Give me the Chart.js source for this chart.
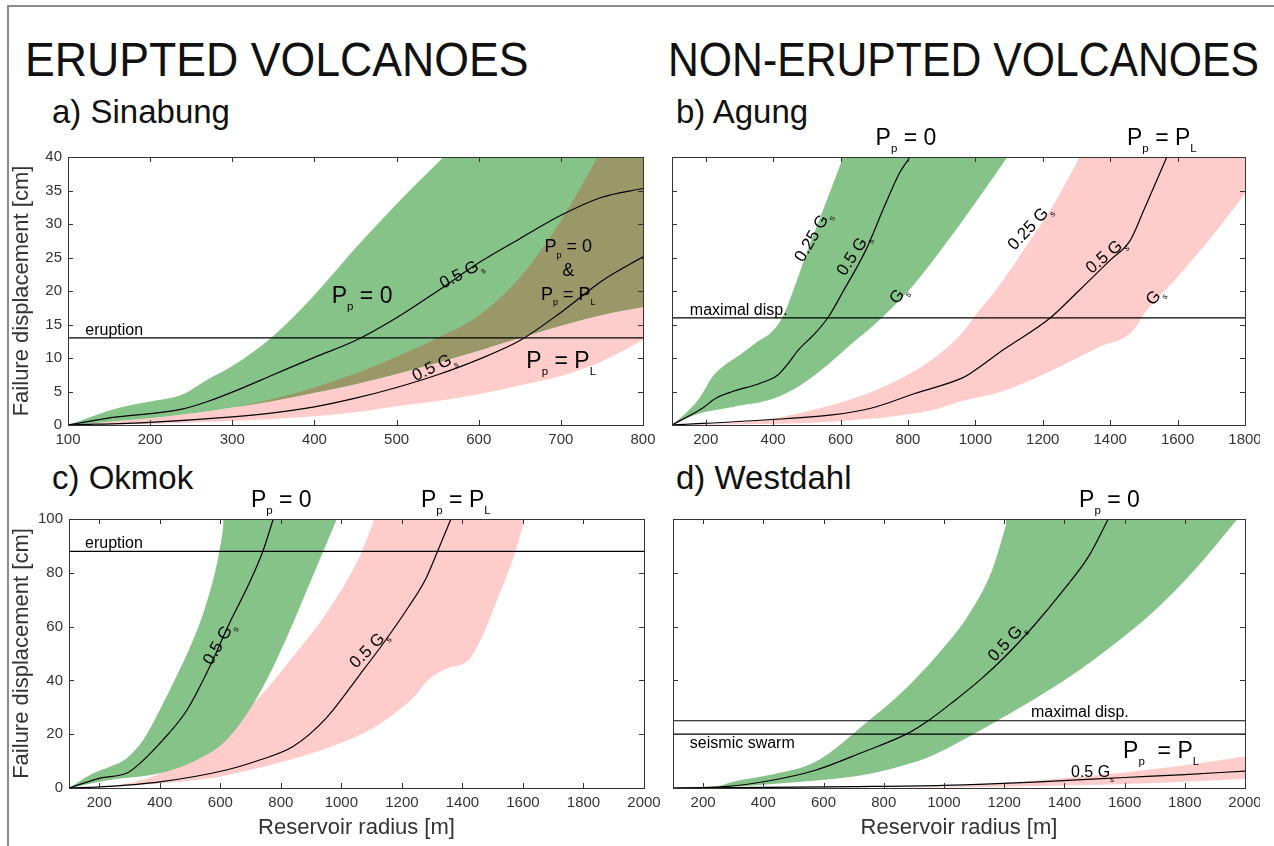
<!DOCTYPE html>
<html>
<head>
<meta charset="utf-8">
<script src="https://cdn.jsdelivr.net/npm/chart.js@4.4.1/dist/chart.umd.min.js"></script>
<style>
  body { margin: 0; background: #fff; width: 1274px; height: 846px; overflow: hidden; position: relative;
         font-family: 'Liberation Sans', Arial, sans-serif; }
  .h { position: absolute; line-height: 1; color: #111; white-space: nowrap; transform-origin: 0 0; }
  .big { font-size: 48px; top: 36px; }
  .sub { font-size: 33px; }
  canvas { position: absolute; }
  #frame { position: absolute; left: 7px; top: 5px; right: 0; bottom: 0;
           border-left: 2px solid #8c8c8c; border-top: 2px solid #8c8c8c; }
</style>
</head>
<body>
<div id="frame"></div>
<div class="h big" style="left:25px;transform:scaleX(0.93)">ERUPTED VOLCANOES</div>
<div class="h big" style="left:668px;transform:scaleX(0.89)">NON-ERUPTED VOLCANOES</div>
<div class="h sub" style="left:52px;top:95px">a) Sinabung</div>
<div class="h sub" style="left:676px;top:95px">b) Agung</div>
<div class="h sub" style="left:52px;top:461px">c) Okmok</div>
<div class="h sub" style="left:676px;top:461px">d) Westdahl</div>

<canvas id="chartA" width="672" height="330" style="left:0;top:120px"></canvas>
<canvas id="chartB" width="605" height="330" style="left:655px;top:120px"></canvas>
<canvas id="chartC" width="672" height="366" style="left:0;top:480px"></canvas>
<canvas id="chartD" width="605" height="366" style="left:655px;top:480px"></canvas>

<script>
// ---- tick labels ----
const ticksXA = [100, 200, 300, 400, 500, 600, 700, 800];
const ticksXB = [200, 400, 600, 800, 1000, 1200, 1400, 1600, 1800];
const ticksXCD = [200, 400, 600, 800, 1000, 1200, 1400, 1600, 1800, 2000];
const ticksY40 = [0, 5, 10, 15, 20, 25, 30, 35, 40];
const ticksY100 = [0, 20, 40, 60, 80, 100];

// ---- a) Sinabung ----
const aGreenLoX = [100, 150, 200, 250, 300, 350, 400, 450, 500, 550, 600, 650, 700, 750, 800];
const aGreenLoY = [0, 0.5, 1.0, 1.7, 2.6, 3.6, 4.8, 6.1, 7.6, 9.3, 11.1, 13.0, 14.8, 16.4, 17.6];
const aGreenHiX = [100, 160, 200, 240, 270, 300, 350, 400, 450, 500, 557];
const aGreenHiY = [0, 2.5, 3.5, 4.6, 6.8, 8.8, 13.3, 19.4, 26.4, 33.0, 40];
const aPinkLoX = [100, 200, 300, 400, 450, 500, 550, 600, 650, 700, 750, 800];
const aPinkLoY = [0, 0.2, 0.6, 1.3, 1.9, 2.8, 3.6, 4.6, 5.9, 7.3, 9.5, 12.7];
const aPinkHiX = [100, 150, 200, 250, 300, 350, 400, 450, 500, 550, 600, 650, 700, 745];
const aPinkHiY = [0, 0.5, 1.0, 1.7, 2.6, 3.9, 5.6, 7.7, 10.2, 13.0, 16.3, 22.0, 30.5, 40];
const aLine0X = [100, 160, 200, 240, 270, 300, 350, 400, 450, 500, 550, 600, 650, 700, 750, 800];
const aLine0Y = [0, 1.2, 1.7, 2.4, 3.5, 4.9, 7.5, 10.1, 12.6, 16.0, 20.0, 24.2, 27.8, 31.3, 34.0, 35.3];
const aLineLX = [100, 200, 300, 350, 400, 450, 500, 550, 600, 650, 700, 750, 800];
const aLineLY = [0, 0.4, 1.2, 1.8, 2.7, 4.0, 5.6, 7.5, 9.8, 12.6, 16.8, 21.5, 25.1];
const aEruption = 13;

// ---- b) Agung ----
const bGreenLoX = [100, 180, 280, 400, 480, 550, 630, 720, 820, 920, 1020, 1095];
const bGreenLoY = [0, 1.7, 2.7, 3.9, 5.9, 8.5, 12.0, 15.9, 21.1, 27.6, 34.6, 40];
const bGreenHiX = [100, 150, 180, 220, 250, 300, 350, 400, 430, 460, 500, 550, 608];
const bGreenHiY = [0, 2.2, 3.9, 7.2, 8.7, 10.4, 12.3, 14.1, 16.3, 20.1, 25.8, 32.3, 40];
const bPinkLoX = [100, 300, 575, 870, 955, 1090, 1250, 1370, 1460, 1510, 1600, 1725, 1800];
const bPinkLoY = [0, 0.1, 0.5, 2.2, 3.5, 5.2, 8.7, 11.7, 13.7, 17.2, 22.1, 29.6, 34.5];
const bPinkHiX = [100, 330, 475, 670, 770, 870, 960, 1010, 1075, 1150, 1240, 1310];
const bPinkHiY = [0, 0.5, 1.7, 4.5, 6.7, 9.7, 13.7, 17.0, 21.1, 26.6, 33.6, 40];
const bLine0X = [100, 190, 230, 280, 360, 415, 445, 475, 525, 565, 605, 675, 730, 775, 806];
const bLine0Y = [0, 2.5, 4.0, 5.0, 6.2, 7.5, 9.2, 11.2, 13.7, 16.2, 19.7, 26.1, 32.6, 37.6, 40];
const bLineLX = [100, 375, 575, 690, 820, 960, 985, 1085, 1220, 1300, 1400, 1460, 1500, 1568];
const bLineLY = [0, 0.75, 1.5, 2.5, 4.7, 7.0, 7.7, 11.3, 15.9, 19.7, 24.6, 27.6, 32.1, 40];
const bMaxDisp = 16;

// ---- c) Okmok ----
const cGreenLoX = [100, 235, 400, 510, 620, 710, 775, 840, 905, 985];
const cGreenLoY = [0, 3.0, 5.5, 9.8, 17.8, 31.5, 45.1, 61.2, 78.6, 100];
const cGreenHiX = [100, 180, 235, 290, 345, 400, 455, 510, 555, 590, 615];
const cGreenHiY = [0, 5.5, 7.9, 11.0, 17.8, 29, 41.5, 55, 69, 84, 100];
const cPinkLoX = [100, 280, 560, 690, 830, 970, 1105, 1190, 1245, 1285, 1350, 1420, 1460, 1515, 1570, 1606];
const cPinkLoY = [0, 0.8, 3.5, 6.5, 10.5, 15.5, 22.3, 29, 34.5, 40, 44.5, 47.5, 55, 70, 86, 100];
const cPinkHiX = [100, 200, 290, 400, 510, 620, 730, 840, 950, 1060, 1110];
const cPinkHiY = [0, 0.5, 1.7, 5.3, 12.5, 21.6, 33.9, 48.8, 65, 86, 100];
const cLine0X = [100, 200, 290, 315, 400, 490, 565, 630, 690, 740, 775];
const cLine0Y = [0, 3.6, 5.5, 7.3, 16.6, 29, 45.1, 61.2, 74.8, 87.8, 100];
const cLineLX = [100, 200, 400, 620, 730, 840, 950, 1060, 1140, 1220, 1280, 1318, 1362];
const cLineLY = [0, 0.4, 2.3, 6.7, 10.4, 15.4, 26, 42, 54, 67, 78, 88, 100];
const cEruption = 88;

// ---- d) Westdahl ----
const dGreenLoX = [100, 300, 440, 695, 820, 950, 1090, 1180, 1300, 1420, 1560, 1700, 1840, 1975];
const dGreenLoY = [0, 0.5, 1.6, 4.2, 7.0, 11.5, 19.5, 25.2, 33, 41.5, 53, 66, 82, 100];
const dGreenHiX = [100, 250, 300, 420, 560, 620, 695, 735, 815, 900, 990, 1080, 1160, 1212];
const dGreenHiY = [0, 0.7, 2.3, 4.8, 9, 13, 19.8, 23.6, 31, 40, 51, 64, 81, 100];
const dPinkLoX = [100, 1000, 1400, 1700, 2000];
const dPinkLoY = [0, 0.2, 0.9, 1.9, 3.3];
const dPinkHiX = [100, 700, 1000, 1200, 1400, 1600, 1800, 2000];
const dPinkHiY = [0, 0.2, 0.5, 1.8, 3.7, 5.8, 8.5, 11.7];
const dLine0X = [100, 270, 420, 570, 730, 880, 945, 1030, 1120, 1200, 1300, 1400, 1480, 1546];
const dLine0Y = [0, 0.5, 2.7, 6.5, 13.3, 20.3, 24.8, 32, 40.2, 48.5, 60.5, 74, 86, 100];
const dLineLX = [100, 400, 700, 1000, 1300, 1600, 1800, 2000];
const dLineLY = [0, 0.2, 0.5, 1.0, 2.2, 3.9, 5.0, 6.3];
const dMaxDisp = 25;
const dSwarm = 20;

const FONT = "'Liberation Sans', Arial, sans-serif";
const GREEN = 'rgb(134,195,136)';
const PINK = 'rgb(255,204,204)';
const OLIVE = 'rgb(154,151,105)';
const CLEAR = 'rgba(0,0,0,0)';

// text pieces, [text, isSubscript]
const PP0 = [['P'], ['p', 1], [' = 0']];
const PPL = [['P'], ['p', 1], [' = P'], ['L', 1]];
const G05 = [['0.5 G'], ['s', 1]];
const G025 = [['0.25 G'], ['s', 1]];
const GS = [['G'], ['s', 1]];

function pts(xs, ys) {
    return xs.map((x, i) => ({ x, y: ys[i] }));
}

const LINE = { borderColor: '#000', borderWidth: 1.2, pointRadius: 0, fill: false, cubicInterpolationMode: 'monotone' };
const EDGE = { borderColor: CLEAR, borderWidth: 0, pointRadius: 0, cubicInterpolationMode: 'monotone' };

function buildDatasets(curves, levels, xMin, xMax, bands) {
    const sets = [];
    curves.forEach(([xs, ys]) => sets.push({ ...LINE, data: pts(xs, ys) }));
    levels.forEach(v => sets.push({ ...LINE, data: [{ x: xMin, y: v }, { x: xMax, y: v }] }));
    // bands: later ones are filled first (under the earlier ones)
    bands.forEach(b => {
        const lo = sets.length;
        const fill = { target: lo, above: b.color, below: b.onlyAbove ? CLEAR : b.color };
        sets.push({ ...EDGE, data: pts(b.loX, b.loY), fill: false });
        sets.push({ ...EDGE, data: pts(b.hiX, b.hiY), fill });
        // where the upper edge leaves the top of the axes, keep the band along the top
        // (starts a hair early so the two fills overlap and leave no seam)
        const lastX = b.hiX[b.hiX.length - 1], lastY = b.hiY[b.hiY.length - 1];
        if (lastX < xMax) {
            const x0 = lastX - (xMax - xMin) * 0.003;
            sets.push({ ...EDGE, data: [{ x: x0, y: lastY }, { x: xMax, y: lastY }], fill });
        }
    });
    return sets;
}

// box with inward ticks on all four sides
const framePlugin = {
    id: 'frame',
    afterDatasetsDraw(chart) {
        const { ctx, chartArea: a, scales: { x, y } } = chart;
        ctx.save();
        ctx.strokeStyle = '#333';
        ctx.lineWidth = 1;
        ctx.beginPath();
        x.ticks.forEach(t => {
            const p = Math.round(x.getPixelForValue(t.value)) + 0.5;
            ctx.moveTo(p, a.bottom); ctx.lineTo(p, a.bottom - 5);
            ctx.moveTo(p, a.top); ctx.lineTo(p, a.top + 5);
        });
        y.ticks.forEach(t => {
            const p = Math.round(y.getPixelForValue(t.value)) + 0.5;
            ctx.moveTo(a.left, p); ctx.lineTo(a.left + 5, p);
            ctx.moveTo(a.right, p); ctx.lineTo(a.right - 5, p);
        });
        ctx.stroke();
        ctx.strokeRect(Math.round(a.left) + 0.5, Math.round(a.top) + 0.5,
            Math.round(a.right - a.left), Math.round(a.bottom - a.top));
        ctx.restore();
    }
};

function drawRich(ctx, parts, px, py, size, rot, align, mid) {
    ctx.save();
    ctx.translate(px, py);
    ctx.rotate((rot || 0) * Math.PI / 180);
    ctx.fillStyle = '#000';
    ctx.textBaseline = 'alphabetic';
    let w = 0;
    parts.forEach(p => {
        ctx.font = `${p[1] ? size * 0.5 : size}px ${FONT}`;
        w += ctx.measureText(p[0]).width;
    });
    let cx = align === 'center' ? -w / 2 : 0;
    const by = mid ? size * 0.36 : 0;
    parts.forEach(p => {
        ctx.font = `${p[1] ? size * 0.5 : size}px ${FONT}`;
        ctx.fillText(p[0], cx, by + (p[1] ? size * 0.3 : 0));
        cx += ctx.measureText(p[0]).width;
    });
    ctx.restore();
}

// labels placed in data coordinates
const notesPlugin = {
    id: 'notes',
    afterDatasetsDraw(chart, args, opts) {
        const { ctx, scales: { x, y } } = chart;
        (opts.items || []).forEach(n => {
            drawRich(ctx, n.t, x.getPixelForValue(n.x), y.getPixelForValue(n.y),
                n.size, n.rot, n.align, n.mid);
        });
    }
};

function makeChart(id, cfg) {
    const tickFont = { family: FONT, size: 15 };
    const titleFont = { family: FONT, size: 22 };
    return new Chart(document.getElementById(id), {
        type: 'line',
        data: { datasets: cfg.datasets },
        options: {
            responsive: false,
            animation: false,
            events: [],
            layout: { padding: { top: cfg.top, right: cfg.right, left: 0, bottom: 0 } },
            plugins: {
                legend: { display: false },
                tooltip: { enabled: false },
                filler: { drawTime: 'beforeDatasetsDraw', propagate: false },
                notes: { items: cfg.notes }
            },
            scales: {
                x: {
                    type: 'linear', min: cfg.xMin, max: cfg.xMax,
                    afterBuildTicks: s => { s.ticks = cfg.xTicks.map(v => ({ value: v })); },
                    afterFit: s => { s.height = cfg.xH; s.paddingLeft = 0; s.paddingRight = 0; },
                    grid: { display: false, drawTicks: false },
                    border: { display: false },
                    ticks: { color: '#333', font: tickFont, padding: 6, maxRotation: 0, autoSkip: false,
                             callback: v => String(v) },
                    title: cfg.xTitle
                        ? { display: true, text: 'Reservoir radius [m]', color: '#333', font: titleFont, padding: { top: 0, bottom: 5 } }
                        : { display: false }
                },
                y: {
                    type: 'linear', min: 0, max: cfg.yMax,
                    afterBuildTicks: s => { s.ticks = cfg.yTicks.map(v => ({ value: v })); },
                    afterFit: s => { s.width = cfg.yW; s.paddingTop = 0; s.paddingBottom = 0; },
                    grid: { display: false, drawTicks: false },
                    border: { display: false },
                    ticks: { display: cfg.yLabels, color: '#333', font: tickFont, padding: 6,
                             callback: v => String(v) },
                    title: cfg.yLabels
                        ? { display: true, text: 'Failure displacement [cm]', color: '#333', font: titleFont, padding: { top: 9, bottom: 0 } }
                        : { display: false }
                }
            }
        },
        plugins: [framePlugin, notesPlugin]
    });
}

// a) Sinabung
makeChart('chartA', {
    xMin: 100, xMax: 800, yMax: 40, xTicks: ticksXA, yTicks: ticksY40,
    top: 37, right: 29, xH: 25, yW: 68, yLabels: true, xTitle: false,
    datasets: buildDatasets(
        [[aLine0X, aLine0Y], [aLineLX, aLineLY]], [aEruption], 100, 800,
        [
            { loX: aGreenLoX, loY: aGreenLoY, hiX: aPinkHiX, hiY: aPinkHiY, color: OLIVE, onlyAbove: true },
            { loX: aGreenLoX, loY: aGreenLoY, hiX: aGreenHiX, hiY: aGreenHiY, color: GREEN },
            { loX: aPinkLoX, loY: aPinkLoY, hiX: aPinkHiX, hiY: aPinkHiY, color: PINK }
        ]),
    notes: [
        { t: [['eruption']], x: 121, y: 13.45, size: 16 },
        { t: PP0, x: 421, y: 18.2, size: 23 },
        { t: G05, x: 578, y: 22.7, size: 17, rot: -28, align: 'center', mid: true },
        { t: PP0, x: 709, y: 25.8, size: 18, align: 'center' },
        { t: [['&']], x: 709, y: 22.2, size: 18, align: 'center' },
        { t: PPL, x: 709, y: 18.66, size: 18, align: 'center' },
        { t: G05, x: 545, y: 8.8, size: 17, rot: -26, align: 'center', mid: true },
        { t: PPL, x: 658, y: 8.46, size: 23 }
    ]
});

// b) Agung
makeChart('chartB', {
    xMin: 100, xMax: 1800, yMax: 40, xTicks: ticksXB, yTicks: ticksY40,
    top: 37, right: 15, xH: 25, yW: 17, yLabels: false, xTitle: false,
    datasets: buildDatasets(
        [[bLine0X, bLine0Y], [bLineLX, bLineLY]], [bMaxDisp], 100, 1800,
        [
            { loX: bGreenLoX, loY: bGreenLoY, hiX: bGreenHiX, hiY: bGreenHiY, color: GREEN },
            { loX: bPinkLoX, loY: bPinkLoY, hiX: bPinkHiX, hiY: bPinkHiY, color: PINK }
        ]),
    notes: [
        { t: PP0, x: 704, y: 41.8, size: 23 },
        { t: PPL, x: 1450, y: 41.8, size: 23 },
        { t: [['maximal disp.']], x: 153, y: 16.4, size: 16 },
        { t: G025, x: 515, y: 28.2, size: 17, rot: -60, align: 'center', mid: true },
        { t: G05, x: 635, y: 25.5, size: 17, rot: -57, align: 'center', mid: true },
        { t: GS, x: 769, y: 19.5, size: 17, rot: -52, align: 'center', mid: true },
        { t: G025, x: 1159, y: 29.6, size: 17, rot: -47, align: 'center', mid: true },
        { t: G05, x: 1385, y: 25.4, size: 17, rot: -40, align: 'center', mid: true },
        { t: GS, x: 1530, y: 19.3, size: 17, rot: -48, align: 'center', mid: true }
    ]
});

// c) Okmok
makeChart('chartC', {
    xMin: 100, xMax: 2000, yMax: 100, xTicks: ticksXCD, yTicks: ticksY100,
    top: 39, right: 28, xH: 58, yW: 69, yLabels: true, xTitle: true,
    datasets: buildDatasets(
        [[cLine0X, cLine0Y], [cLineLX, cLineLY]], [cEruption], 100, 2000,
        [
            { loX: cGreenLoX, loY: cGreenLoY, hiX: cGreenHiX, hiY: cGreenHiY, color: GREEN },
            { loX: cPinkLoX, loY: cPinkLoY, hiX: cPinkHiX, hiY: cPinkHiY, color: PINK }
        ]),
    notes: [
        { t: PP0, x: 701, y: 104.6, size: 23 },
        { t: PPL, x: 1263, y: 104.6, size: 23 },
        { t: [['eruption']], x: 153, y: 89.1, size: 16 },
        { t: G05, x: 592, y: 53.9, size: 17, rot: -60, align: 'center', mid: true },
        { t: G05, x: 1088, y: 51.9, size: 17, rot: -45, align: 'center', mid: true }
    ]
});

// d) Westdahl
makeChart('chartD', {
    xMin: 100, xMax: 2000, yMax: 100, xTicks: ticksXCD, yTicks: ticksY100,
    top: 39, right: 15, xH: 58, yW: 18, yLabels: false, xTitle: true,
    datasets: buildDatasets(
        [[dLine0X, dLine0Y], [dLineLX, dLineLY]], [dMaxDisp, dSwarm], 100, 2000,
        [
            { loX: dGreenLoX, loY: dGreenLoY, hiX: dGreenHiX, hiY: dGreenHiY, color: GREEN },
            { loX: dPinkLoX, loY: dPinkLoY, hiX: dPinkHiX, hiY: dPinkHiY, color: PINK }
        ]),
    notes: [
        { t: PP0, x: 1449, y: 104.6, size: 23 },
        { t: [['maximal disp.']], x: 1289, y: 26.5, size: 16 },
        { t: [['seismic swarm']], x: 156, y: 14.8, size: 16 },
        { t: [['P'], ['p', 1], ['  = P'], ['L', 1]], x: 1595, y: 11.0, size: 23 },
        { t: G05, x: 1206, y: 54.5, size: 17, rot: -47, align: 'center', mid: true },
        { t: G05, x: 1422, y: 4.2, size: 16 }
    ]
});
</script>
</body>
</html>
